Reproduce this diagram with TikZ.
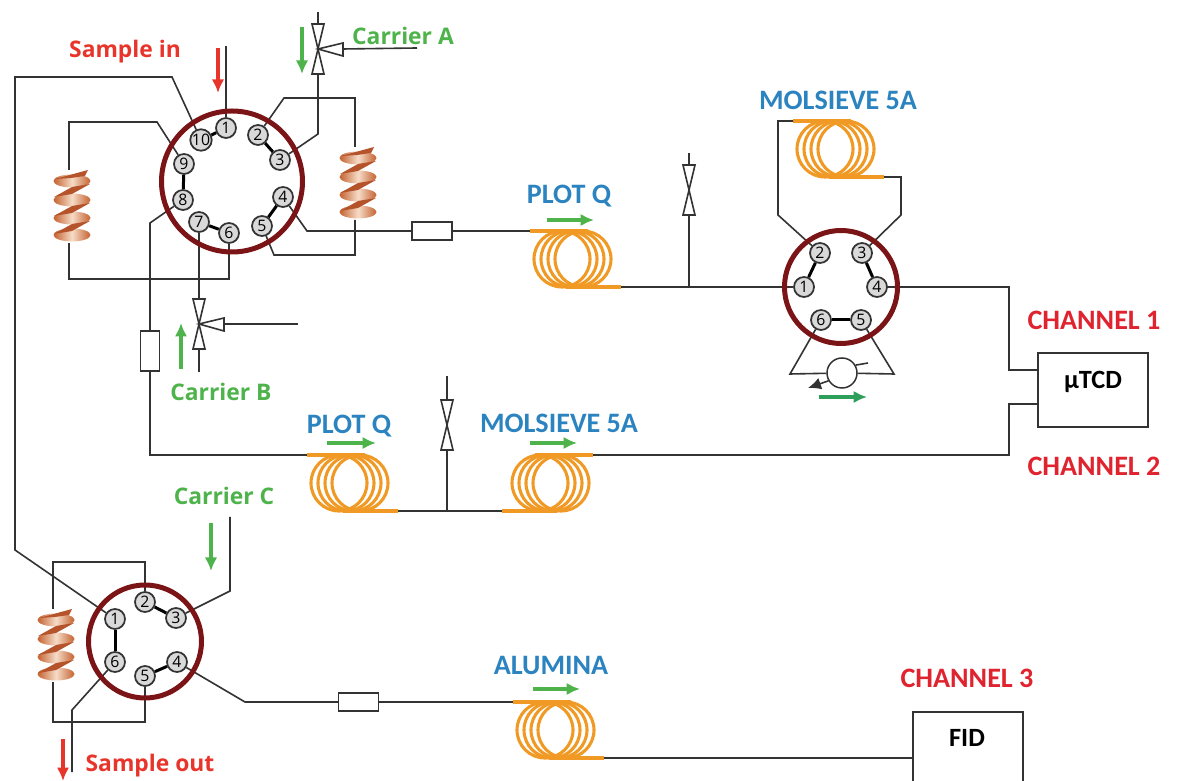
\documentclass[tikz,border=0pt]{standalone}
\usepackage{fontspec}
\setmainfont{Carlito}
\newfontfamily\tagfont{Open Sans}
\usepackage{xcolor}
\usetikzlibrary{arrows.meta,calc}
\definecolor{ringred}{HTML}{7A1416}
\definecolor{coilorange}{HTML}{F09A25}
\definecolor{wiregray}{HTML}{333333}
\definecolor{carriergreen}{HTML}{4DB34A}
\definecolor{flowgreen}{HTML}{2E9E5B}
\definecolor{samplered}{HTML}{E8352B}
\definecolor{channelred}{HTML}{E0242F}
\definecolor{phaseblue}{HTML}{2B83C0}
\definecolor{copper}{HTML}{C4622F}
\definecolor{copperdark}{HTML}{B5532A}
\definecolor{copperpale}{HTML}{F6DCC8}

\begin{document}
\begin{tikzpicture}[x=0.2mm, y=-0.2mm, >=Latex,
  wire/.style={draw=wiregray, line width=0.32mm},
  link/.style={draw=black, line width=0.6mm},
  port/.style={draw=wiregray, circle, fill=black!15, line width=0.35mm, inner sep=0pt, minimum size=4mm, font=\tagfont\fontsize{9}{9}\selectfont},
  rotor/.style={draw=ringred, circle, line width=1mm, inner sep=0pt},
  filter/.style={draw=wiregray, fill=white, line width=0.3mm, inner sep=0pt},
  detector/.style={draw=wiregray, fill=white, line width=0.35mm, inner sep=0pt, minimum width=22mm},
  coilwire/.style={draw=coilorange, line width=0.62mm},
  phase/.style={text=phaseblue, font=\bfseries\fontsize{16}{18}\selectfont},
  channel/.style={text=channelred, font=\bfseries\fontsize{16}{18}\selectfont},
  carrier/.style={text=carriergreen, font=\tagfont\bfseries\fontsize{13}{15}\selectfont},
  sample/.style={text=samplered, font=\tagfont\bfseries\fontsize{13}{15}\selectfont},
  flow/.style={draw=carriergreen, line width=0.65mm, -{Latex[length=2.7mm,width=2.5mm]}},
  flowred/.style={draw=samplered, line width=0.65mm, -{Latex[length=2.7mm,width=2.5mm]}},
  coil/.pic={
    \foreach \cx in {32,39,46,53}{ \draw[coilwire] (\cx,28) circle[radius=28]; }
    \draw[coilwire] (0,0) -- (58,0);
    \draw[coilwire] (36,56) -- (91,56);
    \coordinate (-in) at (0,0);
    \coordinate (-out) at (91,56);
  },
  spring/.pic={
    \foreach \ly in {11,30,48,65}{
      \path[left color=copper, right color=copper, middle color=copperpale] (3,\ly) ellipse[x radius=18.5, y radius=6.5];
    }
    \fill[copperdark] (-14,9) -- (19,0) -- (16,6) -- (2,8) -- cycle;
    \foreach \ly in {11,30,48}{
      \fill[copperdark] (21,\ly+3) -- (3,\ly+6) -- (-15,\ly+16) -- (3,\ly+13) -- cycle;
    }
    \coordinate (-top) at (0,0);
    \coordinate (-bot) at (0,73);
  },
  valve/.pic={
    \draw[wire, fill=white] (-6,-25) -- (6,-25) -- (-6,25) -- (6,25) -- cycle;
    \coordinate (-top) at (0,-25);
    \coordinate (-bot) at (0,25);
  },
  valveside/.pic={
    \draw[wire, fill=white] (-6,-25) -- (6,-25) -- (-6,25) -- (6,25) -- cycle;
    \draw[wire, fill=white] (0,0) -- (25,-6) -- (25,7) -- cycle;
    \coordinate (-top) at (0,-25);
    \coordinate (-bot) at (0,25);
    \coordinate (-side) at (25,0);
  }]
\useasboundingbox (0,0) rectangle (1185,781);

% free ends
\coordinate (samplein) at (226,46);
\coordinate (sampleout) at (72,772);
\coordinate (carriera) at (417,48);
\coordinate (carrierb) at (298,324);
\coordinate (carrierbin) at (199,372);
\coordinate (carrierc) at (230,517);
\coordinate (topa) at (318,12);
\coordinate (venta) at (689,153);
\coordinate (ventb) at (447,376);

% ports of the three rotors
\foreach \n/\px/\py in {1/226/128,2/258/135,3/280/160,4/283/197,5/262/226,6/229/233,7/199/222,8/183/200,9/184/164,10/201/140}
  \node[port] (a\n) at (\px,\py) {\n};
\foreach \n/\px/\py in {1/804/287,2/820/253,3/862/253,4/877/287,5/861/320,6/821/320}
  \node[port] (b\n) at (\px,\py) {\n};
\foreach \n/\px/\py in {1/115/619,2/145/602,3/176/618,4/177/662,5/145/676,6/115/662}
  \node[port] (c\n) at (\px,\py) {\n};
\foreach \p/\q in {a1/a10,a2/a3,a4/a5,a6/a7,a8/a9,b1/b2,b3/b4,b5/b6,c1/c6,c2/c3,c4/c5}
  \draw[link] (\p) -- (\q);

% columns, sample loops, valves
\pic (pqa) at (530,231) {coil};
\pic (msa) at (793,121) {coil};
\pic (pqb) at (307,455) {coil};
\pic[xscale=-1] (msb) at (593,455) {coil};
\pic (alu) at (513,702) {coil};
\pic (loopa) at (69,170) {spring};
\pic (loopb) at (355,147) {spring};
\pic (loopc) at (53,609) {spring};
\pic (va) at (318,49) {valveside};
\pic (vb) at (199,324) {valveside};
\pic (vc) at (689,190) {valve};
\pic (vd) at (447,425) {valve};

\node[filter, minimum width=8mm, minimum height=3.6mm] (fa) at (432,231) {};
\node[filter, minimum width=3.8mm, minimum height=8mm] (fb) at (150,351) {};
\node[filter, minimum width=8mm, minimum height=3.6mm] (fc) at (358.5,702) {};
\node[detector, minimum height=14.8mm, font=\bfseries\fontsize{15}{15}\selectfont, text depth=4mm] (tcd) at (1093,390) {µTCD};
\node[detector, minimum height=16mm] (fid) at (968,752) {};
\node[font=\bfseries\fontsize{15}{15}\selectfont] (fidtext) at (967,738) {FID};
\node[draw=wiregray, fill=white, circle, line width=0.3mm, minimum size=6mm, inner sep=0pt] (pump) at (842,373) {};

% first rotor
\draw[wire] (samplein) -- (a1);
\draw[wire] (a10) -- (172,77) -- (15,77) -- (15,550) -- (c1);
\draw[wire] (a9) -- (157,122) -- (69,122) -- (loopa-top);
\draw[wire] (loopa-bot) -- (69,279) -- (229,279) -- (a6);
\draw[wire] (a8) -- (150,223) -- (fb.north);
\draw[wire] (fb.south) -- (150,455) -- (pqb-in);
\draw[wire] (a7) -- (vb-top);
\draw[wire] (vb-side) -- (carrierb);
\draw[wire] (vb-bot) -- (carrierbin);
\draw[wire] (topa) -- (va-top);
\draw[wire] (va-side) -- (carriera);
\draw[wire] (va-bot) -- (318,134) -- (a3);
\draw[wire] (a2) -- (284,98) -- (355,98) -- (loopb-top);
\draw[wire] (loopb-bot) -- (355,255) -- (274,255) -- (a5);
\draw[wire] (a4) -- (307,231) -- (fa.west);
\draw[wire] (fa.east) -- (pqa-in);
% second rotor
\draw[wire] (pqa-out) -- (b1);
\draw[wire] (689,287) -- (vc-bot);
\draw[wire] (vc-top) -- (venta);
\draw[wire] (b2) -- (778,215) -- (778,121) -- (msa-in);
\draw[wire] (b3) -- (901,215) -- (901,177) -- (msa-out);
\draw[wire] (b4) -- (1009,287) -- (1009,370) -- (1038,370);
\draw[wire] (b6) -- (790,374) -- (pump);
\draw[wire] (pump) -- (894,374) -- (b5);
\draw[wire] (pump.30) -- (868,363);
\draw[wire, -{Latex[length=2.6mm,width=2.4mm]}] (pump.210) -- (808,388);
% channel 2
\draw[wire] (pqb-out) -- (msb-out);
\draw[wire] (447,511) -- (vd-bot);
\draw[wire] (vd-top) -- (ventb);
\draw[wire] (msb-in) -- (1009,455) -- (1009,404) -- (1038,404);
% third rotor
\draw[wire] (c2) -- (145,562) -- (53,562) -- (loopc-top);
\draw[wire] (loopc-bot) -- (53,722) -- (145,722) -- (c5);
\draw[wire] (carrierc) -- (230,591) -- (c3);
\draw[wire] (c6) -- (72,710) -- (sampleout);
\draw[wire] (c4) -- (245,702) -- (fc.west);
\draw[wire] (fc.east) -- (alu-in);
\draw[wire] (alu-out) -- (913,758);

% rings go over the wires
\node[rotor, minimum size=28.2mm] (ringa) at (232,181.5) {};
\node[rotor, minimum size=22.6mm] (ringb) at (841,287) {};
\node[rotor, minimum size=22.6mm] (ringc) at (145,641.5) {};

% flow arrows
\coordinate (ina1) at (218,48);   \coordinate (ina2) at (218,93);
\coordinate (ca1) at (302,27);    \coordinate (ca2) at (302,74);
\coordinate (cb1) at (181,369);   \coordinate (cb2) at (181,323);
\coordinate (cc1) at (211,523);   \coordinate (cc2) at (211,571);
\coordinate (ot1) at (63,739);    \coordinate (ot2) at (63,781);
\draw[flowred] (ina1) -- (ina2);
\draw[flowred] (ot1) -- (ot2);
\draw[flow] (ca1) -- (ca2);
\draw[flow] (cb1) -- (cb2);
\draw[flow] (cc1) -- (cc2);
\foreach \xa/\xb/\ya in {547/594/220,327/376/443,530/577/443,533/580/689}{
  \coordinate (fl) at (\xa,\ya);
  \draw[flow] (fl) -- ++(\xb-\xa,0);
}
\coordinate (fg) at (819,397);
\draw[flow, draw=flowgreen] (fg) -- ++(48,0);

% labels
\node[sample] (lsin) at (125,52) {Sample in};
\node[sample] (lsout) at (150,766) {Sample out};
\node[carrier] (lca) at (403,36) {Carrier A};
\node[carrier] (lcb) at (221,392) {Carrier B};
\node[carrier] (lcc) at (224,496) {Carrier C};
\node[phase] (lpqa) at (569,196) {PLOT Q};
\node[phase] (lmsa) at (838,100) {MOLSIEVE 5A};
\node[phase] (lpqb) at (349,426) {PLOT Q};
\node[phase] (lmsb) at (559,423) {MOLSIEVE 5A};
\node[phase] (lalu) at (551,665) {ALUMINA};
\node[channel] (lch1) at (1094,320) {CHANNEL 1};
\node[channel] (lch2) at (1094,466) {CHANNEL 2};
\node[channel] (lch3) at (967,678) {CHANNEL 3};
\end{tikzpicture}
\end{document}
